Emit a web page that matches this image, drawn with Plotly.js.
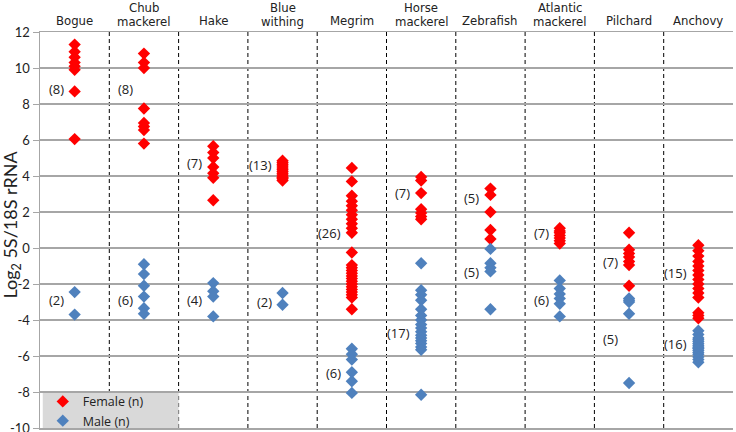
<!DOCTYPE html>
<html>
<head>
<meta charset="utf-8">
<script src="https://cdn.plot.ly/plotly-3.0.1.min.js"></script>
<style>
html,body{margin:0;padding:0;background:#fff;}
#chart{width:736px;height:432px;}
</style>
</head>
<body>
<div id="chart"></div>
<script>
// ---- data ----
const categories = ["Bogue","Chub mackerel","Hake","Blue withing","Megrim","Horse mackerel","Zebrafish","Atlantic mackerel","Pilchard","Anchovy"];

const bogueFemale = [11.3, 10.9, 10.6, 10.3, 10.1, 9.9, 8.7, 6.05];
const bogueMale = [-2.45, -3.7];
const chubFemale = [10.8, 10.3, 10.0, 7.75, 6.95, 6.75, 6.55, 5.8];
const chubMale = [-0.9, -1.45, -2.1, -2.7, -3.35, -3.65];
const hakeFemale = [5.65, 5.3, 5.0, 4.5, 4.15, 3.9, 2.65];
const hakeMale = [-1.95, -2.4, -2.7, -3.8];
const blueFemale = [4.85, 4.75, 4.65, 4.55, 4.45, 4.35, 4.25, 4.15, 4.05, 3.95, 3.9, 3.85, 3.75];
const blueMale = [-2.5, -3.15];
const megrimFemale = [4.45, 3.7, 2.9, 2.6, 2.35, 2.1, 1.85, 1.6, 1.35, 1.1, 0.85, -0.25,
  -0.95, -1.1, -1.25, -1.4, -1.55, -1.7, -1.85, -2.0, -2.15, -2.3, -2.45, -2.6, -2.75, -3.4];
const megrimMale = [-5.6, -5.9, -6.2, -6.9, -7.4, -8.05];
const horseFemale = [3.95, 3.75, 3.05, 2.15, 1.95, 1.75, 1.6];
const horseMale = [-0.85, -2.35, -2.6, -2.9, -3.4, -3.75, -4.0, -4.25, -4.45, -4.65, -4.85, -5.0, -5.15, -5.3, -5.5, -5.65, -8.15];
const zebraFemale = [3.3, 2.95, 2.0, 1.0, 0.5];
const zebraMale = [-0.05, -0.85, -1.1, -1.3, -3.4];
const atlanticFemale = [1.1, 0.95, 0.85, 0.7, 0.55, 0.4, 0.25];
const atlanticMale = [-1.8, -2.25, -2.55, -2.8, -3.1, -3.8];
const pilchardFemale = [0.85, -0.1, -0.3, -0.5, -0.75, -0.95, -2.1];
const pilchardMale = [-2.8, -2.9, -3.0, -3.65, -7.5];
const anchovyFemale = [0.15, -0.15, -0.45, -0.75, -1.0, -1.25, -1.5, -1.75, -2.0, -2.25, -2.5, -2.75, -3.6, -3.75, -3.9];
const anchovyMale = [-4.6, -4.8, -5.0, -5.1, -5.2, -5.3, -5.4, -5.5, -5.55, -5.6, -5.7, -5.8, -5.9, -6.05, -6.2, -6.35];

const femaleSeries = [bogueFemale, chubFemale, hakeFemale, blueFemale, megrimFemale, horseFemale, zebraFemale, atlanticFemale, pilchardFemale, anchovyFemale];
const maleSeries = [bogueMale, chubMale, hakeMale, blueMale, megrimMale, horseMale, zebraMale, atlanticMale, pilchardMale, anchovyMale];

// label placement (y value where the "(n)" label sits)
const femaleLabelY = [8.83, 8.83, 4.72, 4.61, 0.81, 3.07, 2.8, 0.81, -0.76, -1.37];
const maleLabelY = [-2.89, -2.89, -2.89, -2.98, -6.93, -4.74, -1.31, -2.89, -5.07, -5.33];

const tickValues = [-10, -8, -6, -4, -2, 0, 2, 4, 6, 8, 10, 12];
const tickLabels = ["-10", "-8", "-6", "-4", "-2", "0", "2", "4", "6", "8", "10", "12"];

// ---- build ----
function flatten(series) {
  const xs = [], ys = [];
  series.forEach((arr, i) => arr.forEach(v => { xs.push(categories[i]); ys.push(v); }));
  return {xs, ys};
}
const f = flatten(femaleSeries), m = flatten(maleSeries);

const traces = [
  {type: 'scatter', mode: 'markers', name: 'Female (n)', x: f.xs, y: f.ys,
   marker: {symbol: 'diamond', size: 9.5, color: '#ff0000'}},
  {type: 'scatter', mode: 'markers', name: 'Male (n)', x: m.xs, y: m.ys,
   marker: {symbol: 'diamond', size: 9.5, color: '#4f81bd'}}
];

const labelFont = {family: '"Open Sans", sans-serif', size: 13, color: '#222'};
const headFont = {family: '"Liberation Sans Narrow", "DejaVu Sans Condensed", sans-serif', size: 13, color: '#222'};

const annotations = [];
categories.forEach((c, i) => {
  annotations.push({x: i, y: femaleLabelY[i], xref: 'x', yref: 'y', text: '(' + femaleSeries[i].length + ')',
    showarrow: false, xanchor: 'right', yanchor: 'middle', xshift: -9, font: labelFont});
  annotations.push({x: i, y: maleLabelY[i], xref: 'x', yref: 'y', text: '(' + maleSeries[i].length + ')',
    showarrow: false, xanchor: 'right', yanchor: 'middle', xshift: -9, font: labelFont});
  const parts = c.split(' ');
  if (parts.length === 1) {
    annotations.push({x: i, y: 1, xref: 'x', yref: 'paper', text: parts[0], showarrow: false,
      yanchor: 'middle', yshift: 12, font: headFont});
  } else {
    annotations.push({x: i, y: 1, xref: 'x', yref: 'paper', text: parts[0], showarrow: false,
      yanchor: 'middle', yshift: 25, font: headFont});
    annotations.push({x: i, y: 1, xref: 'x', yref: 'paper', text: parts[1], showarrow: false,
      yanchor: 'middle', yshift: 11, font: headFont});
  }
});
annotations.push({x: 0, y: 1.3, xref: 'paper', yref: 'y', xshift: -28, text: 'Log<sub>2</sub> 5S/18S rRNA',
  textangle: -90, showarrow: false, xanchor: 'center', yanchor: 'middle',
  font: {family: 'Lato, "Open Sans", sans-serif', size: 18, color: '#222'}});

const shapes = [];
for (let i = 0; i < categories.length - 1; i++) {
  shapes.push({type: 'line', xref: 'x', yref: 'y', x0: i + 0.5, x1: i + 0.5, y0: -10, y1: 12,
    line: {color: '#000', width: 1, dash: '4px,3px'}, layer: 'below'});
}
shapes.push({type: 'rect', xref: 'x', yref: 'y', x0: -0.46, x1: 1.5, y0: -10, y1: -8,
  fillcolor: '#d9d9d9', line: {width: 0}, layer: 'below'});

const layout = {
  width: 736, height: 432,
  margin: {l: 40, r: 3, t: 32, b: 4, autoexpand: false},
  paper_bgcolor: '#fff', plot_bgcolor: 'rgba(0,0,0,0)',
  showlegend: true,
  legend: {x: 0.004, y: 0.104, xanchor: 'left', yanchor: 'top', bgcolor: 'rgba(0,0,0,0)',
    font: {family: '"Open Sans", sans-serif', size: 12.5, color: '#222'}, tracegroupgap: 0},
  xaxis: {type: 'category', categoryorder: 'array', categoryarray: categories, range: [-0.5, 9.5],
    showgrid: false, zeroline: false, showticklabels: false, ticks: '',
    showline: true, linecolor: '#a6a6a6', linewidth: 1.5, mirror: true},
  yaxis: {range: [-10, 12], tickvals: tickValues, ticktext: tickLabels, showgrid: true,
    gridcolor: '#a6a6a6', gridwidth: 1.5, zeroline: false, showline: true, linecolor: '#a6a6a6',
    linewidth: 1.5, ticks: 'outside', ticklen: 6, tickcolor: '#a6a6a6', ticklabeloverflow: 'allow',
    tickfont: {family: 'Lato, "Open Sans", sans-serif', size: 13, color: '#222'}},
  annotations: annotations,
  shapes: shapes
};

Plotly.newPlot('chart', traces, layout, {staticPlot: true, displayModeBar: false});
</script>
</body>
</html>
